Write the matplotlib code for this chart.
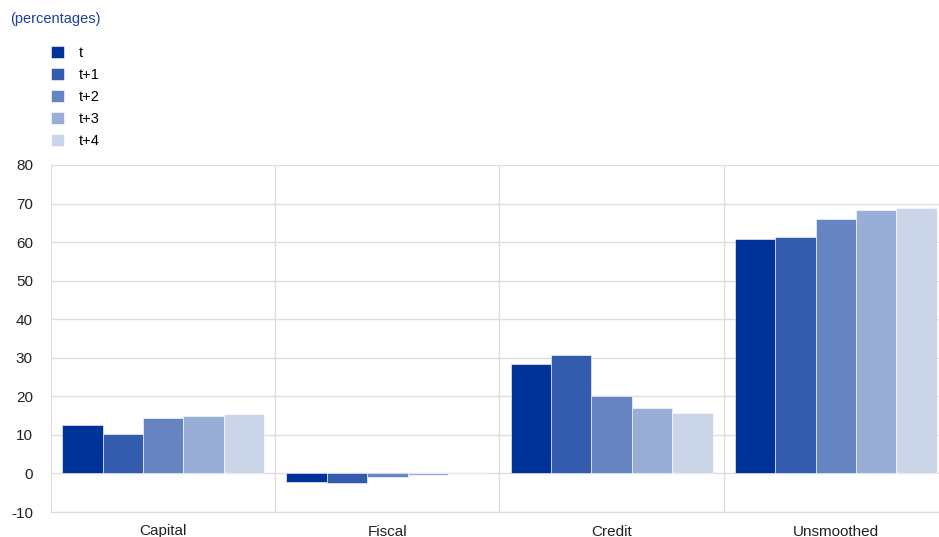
import numpy as np
import matplotlib.pyplot as plt

plt.rcParams['font.family'] = ['Liberation Sans', 'DejaVu Sans']
plt.rcParams['axes.unicode_minus'] = False

# Data
categories = ['Capital', 'Fiscal', 'Credit', 'Unsmoothed']
horizons = ['t', 't+1', 't+2', 't+3', 't+4']
capital = [12.5, 10.2, 14.5, 15.0, 15.4]
fiscal = [-2.2, -2.4, -0.8, -0.4, -0.2]
credit = [28.5, 30.8, 20.0, 16.9, 15.8]
unsmoothed = [60.8, 61.3, 66.1, 68.2, 68.8]
colors = ['#003299', '#335BAE', '#6684C2', '#99AED7', '#CCD6EA']

values = np.array([capital, fiscal, credit, unsmoothed])

fig = plt.figure(figsize=(9.39, 5.37), dpi=100)
ax = fig.add_axes([51 / 939, 1 - 512 / 537, 1 - 51 / 939, (512 - 165) / 537])

x = np.arange(len(categories))
w = 0.18
for i, h in enumerate(horizons):
    ax.bar(x - 0.45 + w * (i + 0.5), values[:, i], width=w, color=colors[i],
           label=h, edgecolor='white', linewidth=0.4, zorder=3)

ax.set_ylim(-10, 80)
ax.set_yticks(range(-10, 81, 10))
ax.set_xlim(-0.5, 3.46)
ax.set_xticks(x)
ax.set_xticklabels(categories, fontsize=11)
ax.yaxis.grid(True, color='#dddddd', linewidth=1, zorder=0)
for b in [0.5, 1.5, 2.5]:
    ax.axvline(b, color='#dddddd', linewidth=1, zorder=0)
ax.tick_params(axis='both', length=0, labelsize=11, colors='#222222')
ax.tick_params(axis='x', pad=9)
ax.tick_params(axis='y', pad=13)
for s in ['top', 'right']:
    ax.spines[s].set_visible(False)
for s in ['left', 'bottom']:
    ax.spines[s].set_color('#dddddd')

fig.text(10 / 939, 1 - 19 / 537, '(percentages)', color='#1f3fa0',
         fontsize=10.5, va='center', ha='left')

handles, labels = ax.get_legend_handles_labels()
fig.legend(handles, labels, loc='upper left', bbox_to_anchor=(45 / 939, 1 - 40 / 537),
           frameon=False, fontsize=10.5, handlelength=0.9, handleheight=0.9,
           handletextpad=1.0, labelspacing=0.55, borderaxespad=0)

fig.savefig('out.png', dpi=100)
